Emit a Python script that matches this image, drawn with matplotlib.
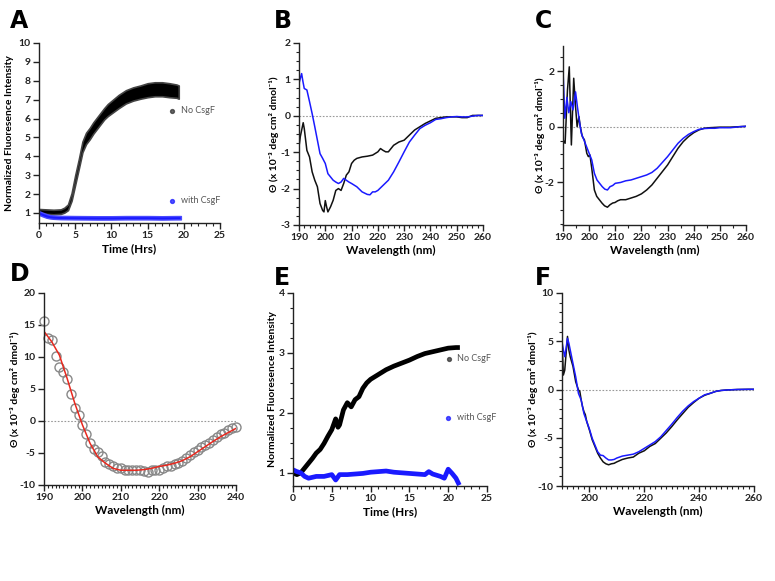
import numpy as np
import matplotlib
matplotlib.use("Agg")
import matplotlib.pyplot as plt
from matplotlib.ticker import MultipleLocator

plt.rcParams['font.family'] = ['Lato', 'DejaVu Sans']
plt.rcParams['font.weight'] = 'bold'
plt.rcParams['axes.unicode_minus'] = False

BLUE = '#1a1aff'

# ---- panel A : ThT kinetics (fluorescence band centre and half width)
a_t = [0, 1, 2, 3, 3.5, 4, 4.5, 5, 5.5, 6, 6.5, 7, 7.5, 8, 8.5, 9, 9.5, 10,
       11, 12, 13, 14, 15, 16, 17, 18, 19, 19.3]
a_no = [1.07, 1.07, 1.05, 1.07, 1.15, 1.3, 1.85, 2.75, 3.6, 4.5, 4.95, 5.2, 5.5,
        5.75, 6.0, 6.25, 6.45, 6.6, 6.9, 7.15, 7.3, 7.4, 7.5, 7.55, 7.55, 7.5,
        7.45, 7.4]
a_no_hw = [0.14, 0.12, 0.12, 0.12, 0.13, 0.15, 0.2, 0.25, 0.25, 0.28, 0.3, 0.3,
           0.3, 0.3, 0.3, 0.3, 0.32, 0.33, 0.35, 0.35, 0.35, 0.35, 0.37, 0.37,
           0.37, 0.37, 0.35, 0.35]
a_w_t = [0, 0.5, 1, 1.5, 2, 3, 5, 8, 10, 12, 15, 17, 19, 19.6]
a_with = [1.0, 0.92, 0.85, 0.8, 0.78, 0.76, 0.75, 0.74, 0.74, 0.75, 0.75, 0.74,
          0.75, 0.75]
a_with_hw = [0.1, 0.1, 0.1, 0.09, 0.09, 0.09, 0.09, 0.09, 0.09, 0.09, 0.09,
             0.09, 0.09, 0.09]

# ---- panel B : CD spectra
b_wl_k = [190, 190.5, 191.6, 192, 193, 194, 195, 196, 197, 198, 199, 199.5, 200,
          200.5, 201, 202, 203, 204, 205, 206, 207, 208, 209, 210, 211, 212, 214,
          216, 218, 220, 221, 222, 223, 224, 226, 228, 230, 232, 234, 236, 238,
          240, 242, 244, 246, 248, 250, 252, 254, 256, 258, 260]
b_black = [-0.85, -0.57, -0.19, -0.35, -0.95, -1.13, -1.54, -1.77, -1.95, -2.41,
           -2.6, -2.64, -2.33, -2.5, -2.64, -2.5, -2.32, -2.05, -2.0, -2.05, -1.86,
           -1.63, -1.54, -1.31, -1.22, -1.17, -1.13, -1.11, -1.08, -0.99, -0.9,
           -0.95, -0.99, -0.99, -0.81, -0.72, -0.67, -0.53, -0.39, -0.3, -0.21,
           -0.14, -0.07, -0.05, -0.03, -0.03, -0.03, -0.05, -0.05, 0.01, 0.01, 0.01]
b_wl_b = [190, 190.5, 191, 191.5, 192, 193, 194, 195, 196, 197, 198, 199, 200, 201,
          202, 203, 204, 205, 206, 207, 208, 209, 210, 212, 214, 216, 217, 218,
          219, 220, 222, 224, 226, 228, 230, 232, 234, 236, 238, 240, 242, 244,
          246, 248, 250, 252, 254, 256, 258, 260]
b_blue = [0.89, 1.03, 1.16, 0.94, 0.75, 0.71, 0.39, 0.06, -0.3, -0.67, -1.04,
          -1.17, -1.31, -1.59, -1.68, -1.77, -1.82, -1.86, -1.82, -1.72, -1.77,
          -1.82, -1.86, -1.95, -2.09, -2.16, -2.17, -2.09, -2.09, -2.05, -1.91,
          -1.77, -1.54, -1.27, -0.99, -0.72, -0.53, -0.35, -0.26, -0.19, -0.1,
          -0.08, -0.05, -0.03, -0.02, -0.03, -0.03, -0.01, 0.01, 0.01]

# ---- panel C : CD spectra
c_wl_k = [190, 190.8, 191.7, 192.4, 193.2, 194.1, 194.8, 195.4, 196.1, 196.6,
          197.4, 198.2, 199.1, 199.7, 200.3, 201, 202, 202.9, 203.9, 204.9, 205.9,
          207, 208, 209, 209.9, 210.9, 212, 214, 216, 218, 220, 222, 224, 226, 228,
          230, 232, 234, 236, 238, 240, 242, 244, 246, 250, 254, 258, 260]
c_black = [-0.48, -0.6, 1.3, 2.15, -0.66, 1.74, 0.72, 0.0, 0.36, 0.0, -0.36,
           -0.48, -0.96, -1.08, -1.02, -1.5, -2.28, -2.51, -2.63, -2.75, -2.85,
           -2.9, -2.81, -2.75, -2.73, -2.67, -2.63, -2.63, -2.57, -2.51, -2.42,
           -2.28, -2.1, -1.86, -1.62, -1.38, -1.08, -0.78, -0.54, -0.36, -0.22,
           -0.12, -0.06, -0.04, -0.02, -0.02, 0.0, 0.01]
c_wl_b = [190, 190.7, 191.5, 192.2, 193, 193.8, 194.8, 195.5, 196.2, 197, 198, 199,
          200, 201, 202, 203, 204, 205, 206, 207, 208, 209, 210, 212, 214, 216,
          218, 220, 222, 224, 226, 228, 230, 232, 234, 236, 238, 240, 242, 244,
          246, 248, 250, 254, 258, 260]
c_blue = [2.04, 0.3, 1.05, 0.5, 0.9, 0.6, 1.25, 0.72, 0.24, -0.24, -0.48, -0.72,
          -0.96, -1.2, -1.68, -1.92, -2.04, -2.16, -2.25, -2.28, -2.16, -2.12,
          -2.04, -2.01, -1.95, -1.92, -1.86, -1.8, -1.74, -1.65, -1.5, -1.29,
          -1.08, -0.84, -0.6, -0.42, -0.28, -0.18, -0.1, -0.07, -0.06, -0.06,
          -0.04, -0.04, 0.0, 0.01]

# ---- panel D : CD data points and fit
d_wl = list(range(190, 241))
d_obs = [15.7, 12.9, 12.7, 10.2, 8.4, 7.7, 6.5, 4.2, 2.0, 0.9, -0.6, -2.0, -3.5,
         -4.3, -4.9, -5.5, -6.4, -6.7, -7.1, -7.4, -7.4, -7.6, -7.7, -7.7, -7.7,
         -7.7, -7.8, -7.9, -7.7, -7.7, -7.6, -7.4, -7.1, -7.0, -6.7, -6.5, -6.2,
         -5.8, -5.3, -4.9, -4.5, -4.0, -3.75, -3.4, -3.0, -2.45, -2.0, -1.8, -1.4,
         -1.15, -1.0]
d_fit_wl = [190, 192, 194, 196, 198, 200, 202, 204, 206, 208, 210, 212, 214, 216,
            218, 220, 222, 224, 226, 228, 230, 232, 234, 236, 238, 240]
d_fit = [14.0, 12.4, 10.3, 6.7, 2.8, -0.6, -3.5, -5.6, -6.6, -7.4, -7.7, -7.7,
         -7.7, -7.6, -7.4, -7.1, -6.9, -6.6, -6.2, -5.6, -4.8, -4.0, -3.2, -2.45,
         -1.8, -1.15]

# ---- panel E : ThT kinetics
e_t = [0, 0.5, 1, 1.5, 2, 2.5, 3, 3.5, 4, 4.5, 5, 5.5, 5.8, 6, 6.5, 7, 7.5, 8, 8.5,
       9, 9.5, 10, 11, 12, 13, 14, 15, 16, 17, 18, 19, 20, 21, 21.2]
e_no = [1.0, 0.97, 1.0, 1.08, 1.16, 1.24, 1.33, 1.39, 1.49, 1.61, 1.72, 1.9,
        1.76, 1.8, 2.05, 2.17, 2.1, 2.22, 2.27, 2.41, 2.5, 2.56, 2.64, 2.72,
        2.78, 2.83, 2.88, 2.94, 2.99, 3.02, 3.05, 3.08, 3.09, 3.09]
e_w_t = [0, 0.5, 1, 1.5, 2, 3, 4, 5, 5.5, 6, 7, 8, 9, 10, 11, 12, 13, 14, 15, 16,
         17, 17.5, 18, 19, 19.5, 20, 20.5, 21, 21.3]
e_with = [1.05, 1.02, 1.0, 0.94, 0.91, 0.94, 0.94, 0.97, 0.88, 0.97, 0.97, 0.98,
          0.99, 1.01, 1.02, 1.03, 1.01, 1.0, 0.99, 0.98, 0.97, 1.02, 0.98, 0.94,
          0.91, 1.06, 0.99, 0.91, 0.83]

# ---- panel F : CD spectra
f_wl_k = [190, 190.5, 191, 192, 192.5, 193, 193.5, 194, 195, 196, 196.5, 197,
          197.5, 198, 198.5, 199, 200, 201, 202, 203, 204, 205, 206, 207, 208,
          209, 210, 212, 214, 216, 218, 220, 222, 224, 226, 228, 230, 232, 234,
          236, 238, 240, 242, 244, 246, 248, 250, 254, 258, 260]
f_black = [5.1, 1.5, 2.0, 5.5, 4.1, 3.4, 2.9, 2.4, 0.8, -0.05, -0.2, -1.1, -1.8,
           -2.3, -2.6, -3.3, -4.2, -5.2, -5.9, -6.6, -7.1, -7.5, -7.7, -7.8, -7.7,
           -7.65, -7.5, -7.25, -7.1, -7.0, -6.6, -6.35, -5.9, -5.6, -5.05, -4.5,
           -3.85, -3.15, -2.5, -1.85, -1.35, -0.9, -0.6, -0.4, -0.2, -0.1, -0.05,
           0.0, 0.02, 0.02]
f_wl_b = [190, 190.5, 191, 191.5, 192, 192.5, 193, 194, 195, 196, 197, 198, 199,
          200, 201, 202, 203, 204, 205, 206, 207, 208, 209, 210, 212, 214, 216,
          218, 220, 222, 224, 226, 228, 230, 232, 234, 236, 238, 240, 242, 244,
          246, 248, 250, 254, 258, 260]
f_blue = [4.95, 4.1, 3.4, 4.3, 5.3, 4.8, 4.1, 2.7, 1.3, -0.4, -1.1, -2.5, -3.3,
          -4.1, -5.05, -5.75, -6.45, -6.8, -6.85, -7.1, -7.3, -7.3, -7.25, -7.1,
          -6.9, -6.8, -6.7, -6.45, -6.1, -5.75, -5.4, -4.9, -4.25, -3.6, -2.9,
          -2.25, -1.7, -1.25, -0.9, -0.55, -0.4, -0.2, -0.1, -0.05, 0.0, 0.02, 0.02]

CD_LABEL = 'Θ (x 10⁻³ deg cm² dmol⁻¹)'
FL_LABEL = 'Normalized Fluoresence Intensity'


def style(ax, xlim, ylim, xmaj, xmin, ymaj, ymin=None):
    ax.set_xlim(*xlim)
    ax.set_ylim(*ylim)
    for s in ['top', 'right']:
        ax.spines[s].set_visible(False)
    for s in ['left', 'bottom']:
        ax.spines[s].set_linewidth(1.0)
        ax.spines[s].set_color('#222222')
    ax.xaxis.set_major_locator(MultipleLocator(xmaj))
    ax.xaxis.set_minor_locator(MultipleLocator(xmin))
    ax.yaxis.set_major_locator(MultipleLocator(ymaj))
    if ymin:
        ax.yaxis.set_minor_locator(MultipleLocator(ymin))
    ax.tick_params(which='major', direction='out', length=4, width=1.0,
                   labelsize=7.5, pad=2, colors='#222222')
    ax.tick_params(which='minor', direction='out', length=2.5, width=0.8,
                   colors='#222222')
    for lab in ax.get_xticklabels() + ax.get_yticklabels():
        lab.set_fontweight('bold')


def zero_line(ax, x0, x1):
    ax.plot([x0, x1], [0, 0], ls=(0, (1.5, 1.5)), color='#999999', lw=0.8, zorder=1)


def panel_letter(fig, x, y, s):
    fig.text(x / 775, 1 - y / 581, s, fontsize=17, fontweight='heavy',
             family='DejaVu Sans', va='top', ha='left')


def legend_item(ax, x, y, color, text):
    ax.plot([x], [y], 'o', ms=2.8, color=color, alpha=0.75, clip_on=False)
    ax.annotate(text, (x, y), xytext=(6, 0), textcoords='offset points',
                va='center', ha='left', fontsize=6.5, fontweight='normal',
                color='#555555')


fig = plt.figure(figsize=(7.75, 5.81), dpi=100)


def add_axes(l, r, t, b):
    return fig.add_axes([l / 775, 1 - b / 581, (r - l) / 775, (b - t) / 581])


# A
ax = add_axes(39, 220, 43, 223)
t = np.array(a_t); c = np.array(a_no); hw = np.array(a_no_hw)
ax.fill_between(t, c - hw, c + hw, color='black', ec='#444444', lw=1.2)
tw = np.array(a_w_t); cw = np.array(a_with); hww = np.array(a_with_hw)
ax.fill_between(tw, cw - hww, cw + hww, color=BLUE, ec='#4a4aff', lw=1.0)
style(ax, (0, 25), (0.47, 10), 5, 1, 1)
ax.set_xlabel('Time (Hrs)', fontsize=8.5, fontweight='bold', labelpad=2)
ax.set_ylabel(FL_LABEL, fontsize=7.5, fontweight='bold', labelpad=3)
legend_item(ax, 18.4, 6.4, '#333333', 'No CsgF')
legend_item(ax, 18.4, 1.64, BLUE, 'with CsgF')

# B
ax = add_axes(299, 483, 43, 225)
zero_line(ax, 190, 260)
ax.plot(b_wl_k, b_black, color='#111111', lw=1.1)
ax.plot(b_wl_b, b_blue, color=BLUE, lw=1.1)
style(ax, (190, 260), (-3, 2), 10, 2, 1, 0.25)
ax.set_xlabel('Wavelength (nm)', fontsize=8.5, fontweight='bold', labelpad=2)
ax.set_ylabel(CD_LABEL, fontsize=7.5, fontweight='bold', labelpad=1)

# C
ax = add_axes(563, 746, 46, 225)
zero_line(ax, 190, 260)
ax.plot(c_wl_k, c_black, color='#111111', lw=1.1)
ax.plot(c_wl_b, c_blue, color=BLUE, lw=1.1)
style(ax, (190, 260), (-3.54, 2.9), 10, 5, 2, 0.5)
ax.set_xlabel('Wavelength (nm)', fontsize=8.5, fontweight='bold', labelpad=2)
ax.set_ylabel(CD_LABEL, fontsize=7.5, fontweight='bold', labelpad=0)

# D
ax = add_axes(44, 236, 293, 485)
zero_line(ax, 190, 240)
ax.plot(d_wl, d_obs, 'o', ms=6.5, mfc='none', mec='#888888', mew=1.0, clip_on=False)
ax.plot(d_fit_wl, d_fit, color='#e8281e', lw=1.1)
style(ax, (190, 240), (-10, 20), 10, 1, 5)
ax.set_xlabel('Wavelength (nm)', fontsize=8.5, fontweight='bold', labelpad=2)
ax.set_ylabel(CD_LABEL, fontsize=7.5, fontweight='bold', labelpad=0)

# E
ax = add_axes(293, 487, 293, 486)
ax.plot(e_t, e_no, color='black', lw=3.4)
ax.plot(e_w_t, e_with, color=BLUE, lw=3.4)
style(ax, (0, 25), (0.78, 4), 5, 1, 1, 0.25)
ax.set_xlabel('Time (Hrs)', fontsize=8.5, fontweight='bold', labelpad=2)
ax.set_ylabel(FL_LABEL, fontsize=7.5, fontweight='bold', labelpad=1)
legend_item(ax, 20.1, 2.9, '#333333', 'No CsgF')
legend_item(ax, 20.0, 1.92, BLUE, 'with CsgF')

# F
ax = add_axes(562, 754, 293, 486)
zero_line(ax, 190, 260)
ax.plot(f_wl_k, f_black, color='#111111', lw=1.1)
ax.plot(f_wl_b, f_blue, color=BLUE, lw=1.1)
style(ax, (190, 260), (-10, 10), 20, 2, 5, 1)
ax.set_xlabel('Wavelength (nm)', fontsize=8.5, fontweight='bold', labelpad=2)
ax.set_ylabel(CD_LABEL, fontsize=7.5, fontweight='bold', labelpad=0)

for x, y, s in [(10, 9, 'A'), (274, 9, 'B'), (535, 9, 'C'),
                (10, 262, 'D'), (274, 266, 'E'), (535, 266, 'F')]:
    panel_letter(fig, x, y, s)

fig.savefig('out.png', dpi=100)
